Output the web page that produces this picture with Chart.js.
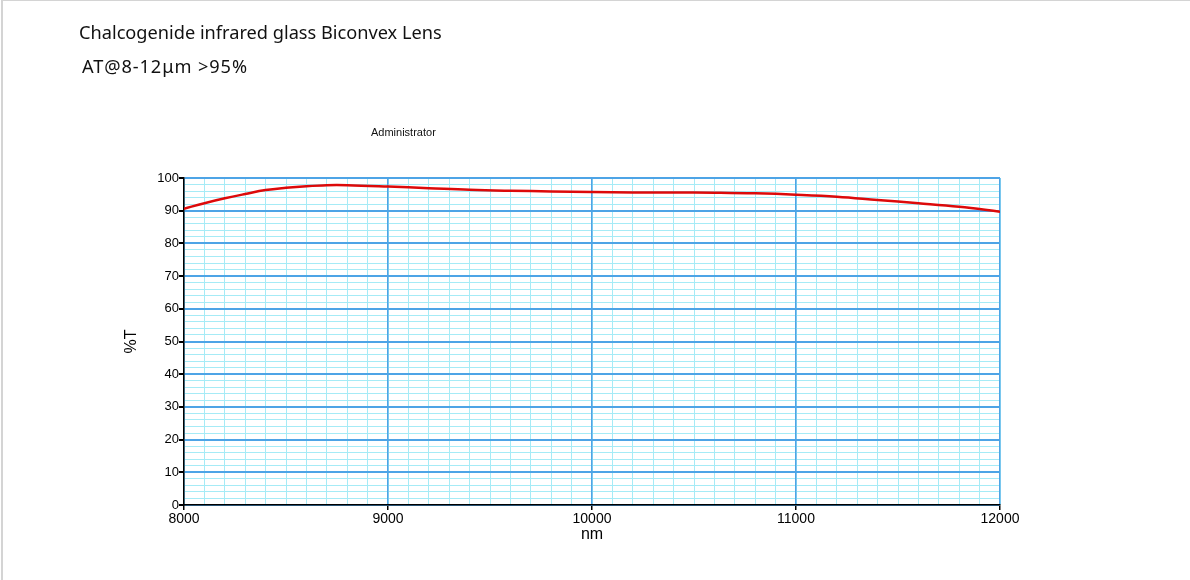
<!DOCTYPE html>
<html>
<head>
<meta charset="utf-8">
<script src="https://cdn.jsdelivr.net/npm/chart.js@4.4.1/dist/chart.umd.min.js"></script>
<style>
  html, body { margin: 0; padding: 0; background: #fff; }
  #wrap { position: relative; width: 1190px; height: 580px; overflow: hidden; }
  #frame { position: absolute; left: 1px; top: 0; width: 1189px; height: 580px;
           border-left: 2px solid #d4d4d4; border-top: 1px solid #d4d4d4; box-sizing: border-box; }
  #chart { position: absolute; left: 0; top: 0; }
  .txt { position: absolute; font-family: "Noto Sans", sans-serif; color: #111; white-space: nowrap; }
  #t1 { left: 79px; top: 20px; font-size: 18.2px; }
  #t2 { left: 82px; top: 54px; font-size: 18.2px; letter-spacing: 0.9px; }
  #adm { left: 371px; top: 126px; font-size: 11px; font-family: "Liberation Sans", Arial, sans-serif; }
</style>
</head>
<body>
<div id="wrap">
  <div id="frame"></div>
  <canvas id="chart" width="1190" height="580"></canvas>
  <div class="txt" id="t1">Chalcogenide infrared glass Biconvex Lens</div>
  <div class="txt" id="t2">AT@8-12μm &gt;95%</div>
  <div class="txt" id="adm">Administrator</div>
</div>
<script>
// wavelength (nm) and transmission (%T)
const wavelength = [8000, 8100, 8200, 8300, 8400, 8500, 8600, 8700, 8800, 9000,
                    9200, 9400, 9600, 9800, 10000, 10200, 10400, 10600, 10800, 11000,
                    11200, 11400, 11600, 11800, 12000];
const transmission = [90.6, 92.3, 93.8, 95.1, 96.3, 97.0, 97.5, 97.8, 97.8, 97.4,
                      96.9, 96.4, 96.1, 95.9, 95.7, 95.6, 95.6, 95.5, 95.3, 94.9,
                      94.3, 93.3, 92.3, 91.2, 89.7];
const xMajorStep = 1000;
const xMinorStep = 100;
const yMajorStep = 10;
const yMinorStep = 2;

const majorCol = "#4ea4e6";
const minorCol = "#a6ebf6";

let punkty = wavelength.map((w, i) => ({ x: w, y: transmission[i] }));

// pomocne osi len pre jemnu mriezku (kreslia sa pod hlavnou mriezkou)
function minorAxis(min, max, step, pos) {
    return {
        type: "linear", min: min, max: max, position: pos, z: -1,
        afterFit: (s) => { if (pos === "bottom") s.height = 0; else s.width = 0; },
        border: { display: false },
        grid: { color: minorCol, lineWidth: 1, drawTicks: false },
        ticks: { stepSize: step, autoSkip: false, display: false }
    };
}

new Chart(document.getElementById("chart").getContext("2d"), {
    type: "line",
    data: {
        datasets: [{
            data: punkty,
            borderColor: "#dd0a0a",
            borderWidth: 2.5,
            pointRadius: 0,
            tension: 0.4,
            fill: false
        }]
    },
    options: {
        responsive: false,
        animation: false,
        layout: { padding: { top: 178, right: 190, left: 122, bottom: 36 } },
        plugins: { legend: { display: false }, tooltip: { enabled: false } },
        scales: {
            x2: minorAxis(8000, 12000, xMinorStep, "bottom"),
            y2: minorAxis(0, 100, yMinorStep, "left"),
            x: {
                type: "linear",
                min: 8000,
                max: 12000,
                afterFit: (s) => { s.height = 39; },
                border: { color: "#000", width: 1.5 },
                grid: { color: majorCol, lineWidth: 1.5, tickColor: "#000", tickLength: 5 },
                ticks: {
                    stepSize: xMajorStep,
                    maxRotation: 0,
                    padding: 1,
                    color: "#000",
                    font: { family: "Liberation Sans", size: 14 },
                    callback: (v) => String(v)
                },
                title: {
                    display: true,
                    text: "nm",
                    color: "#000",
                    padding: { top: 0, bottom: 0 },
                    font: { family: "Liberation Sans", size: 16 }
                }
            },
            y: {
                min: 0,
                max: 100,
                afterFit: (s) => { s.width = 62; },
                border: { color: "#000", width: 1.5 },
                grid: { color: majorCol, lineWidth: 2, tickColor: "#000", tickLength: 5 },
                ticks: {
                    stepSize: yMajorStep,
                    padding: 0,
                    color: "#000",
                    font: { family: "Liberation Sans", size: 13 },
                    callback: (v) => String(v)
                },
                title: {
                    display: true,
                    text: "%T",
                    color: "#000",
                    padding: 0,
                    font: { family: "Liberation Sans", size: 16 }
                }
            }
        }
    }
});
</script>
</body>
</html>
